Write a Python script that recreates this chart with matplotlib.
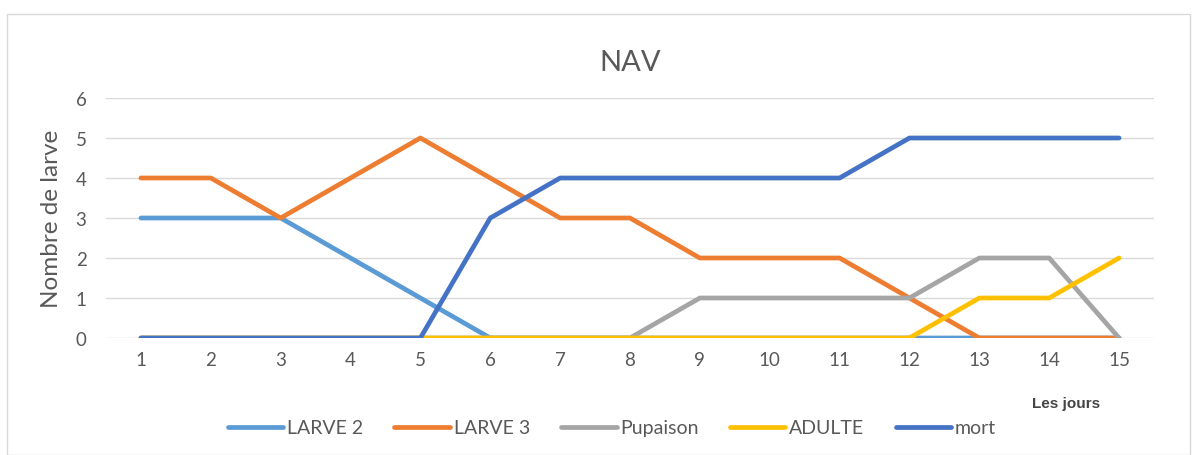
import matplotlib
matplotlib.use("Agg")
import matplotlib.pyplot as plt
from matplotlib.patches import Rectangle

jours = list(range(1, 16))
larve2 = [3, 3, 3, 2, 1, 0, 0, 0, 0, 0, 0, 0, 0, 0, 0]
larve3 = [4, 4, 3, 4, 5, 4, 3, 3, 2, 2, 2, 1, 0, 0, 0]
pupaison = [0, 0, 0, 0, 0, 0, 0, 0, 1, 1, 1, 1, 2, 2, 0]
adulte = [0, 0, 0, 0, 0, 0, 0, 0, 0, 0, 0, 0, 1, 1, 2]
mort = [0, 0, 0, 0, 0, 3, 4, 4, 4, 4, 4, 5, 5, 5, 5]

series = [
    ("LARVE 2", larve2, "#5B9BD5"),
    ("LARVE 3", larve3, "#ED7D31"),
    ("Pupaison", pupaison, "#A5A5A5"),
    ("ADULTE", adulte, "#FFC000"),
    ("mort", mort, "#4472C4"),
]

plt.rcParams["font.family"] = ["Lato", "DejaVu Sans"]
txt = "#595959"

W, H = 1196, 456
fig = plt.figure(figsize=(W / 100, H / 100), dpi=100)
fig.patches.append(Rectangle((7 / W, 0), 1183 / W, 1 - 15 / H, transform=fig.transFigure,
                             fill=False, edgecolor="#D9D9D9", linewidth=1))

ax = fig.add_axes([106 / W, 1 - 339 / H, 1048 / W, 240 / H])
for name, vals, col in series:
    ax.plot(jours, vals, color=col, linewidth=3.4, label=name, solid_capstyle="round")

ax.set_xlim(0.5, 15.5)
ax.set_ylim(0, 6)
ax.set_xticks(jours)
ax.set_yticks(range(0, 7))
ax.yaxis.grid(True, color="#D9D9D9", linewidth=1)
ax.set_axisbelow(True)
for s in ax.spines.values():
    s.set_visible(False)
ax.tick_params(length=0, labelsize=13.5, colors=txt, pad=9)
ax.tick_params(axis="y", pad=14)
ax.set_ylabel("Nombre de larve", fontsize=17.5, color=txt, labelpad=10)

ax.set_title("NAV", fontsize=21, color=txt, pad=20)
fig.text(1066 / W, 1 - 404 / H, "Les jours", fontsize=11, color="#444444",
         ha="center", va="center", family="Liberation Sans", fontweight="bold")

leg = fig.legend(loc="center", bbox_to_anchor=(612 / W, 1 - 429 / H), ncol=5,
                 frameon=False, fontsize=14, handlelength=2.85, columnspacing=1.6,
                 handletextpad=0.2)
for t in leg.get_texts():
    t.set_color(txt)

fig.savefig("out.png", dpi=100)
